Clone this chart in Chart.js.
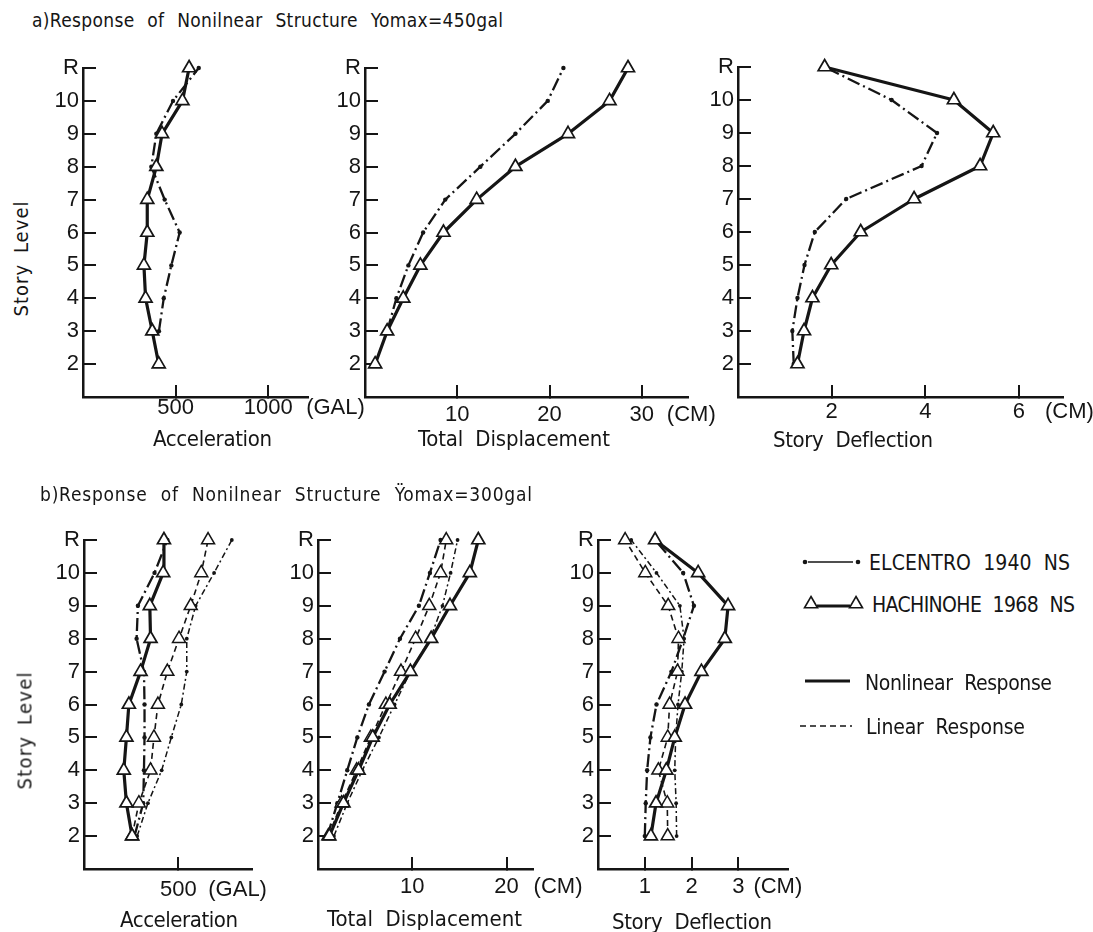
<!DOCTYPE html>
<html><head><meta charset="utf-8">
<script src="https://cdn.jsdelivr.net/npm/chart.js@4.4.1/dist/chart.umd.min.js"></script>
<style>
html,body{margin:0;padding:0;background:#fff;}
#page{position:relative;width:1093px;height:932px;overflow:hidden;background:#fff;}
#page canvas{position:absolute;}
.t{position:absolute;white-space:nowrap;color:#151515;line-height:1;}
</style></head>
<body><div id="page"></div>
<script>
// ---------------- DATA ----------------
const levels = [2, 3, 4, 5, 6, 7, 8, 9, 10, 11];            // 11 = R (roof)
const levelLabels = {11: 'R'};

// a) Response of nonlinear structure, Yomax = 450 gal
const a_acc_hachinohe_nl  = [409, 374, 338, 329, 347, 347, 396, 427, 537, 573];
const a_acc_elcentro_nl   = [null, 410, 436, 477, 522, 441, 369, 396, 486, 625];
const a_disp_hachinohe_nl = [1.1, 2.4, 4.15, 6.0, 8.5, 12.1, 16.3, 22.0, 26.5, 28.5];
const a_disp_elcentro_nl  = [null, 2.4, 3.4, 4.7, 6.3, 8.7, 12.5, 16.3, 19.8, 21.5];
const a_defl_hachinohe_nl = [1.27, 1.41, 1.59, 1.99, 2.62, 3.76, 5.17, 5.45, 4.61, 1.85];
const a_defl_elcentro_nl  = [1.19, 1.16, 1.27, 1.42, 1.64, 2.31, 3.92, 4.25, 3.28, 1.85];

// b) Response of nonlinear structure, Yomax = 300 gal
const b_acc_hachinohe_nl   = [255, 225, 211, 225, 238, 300, 353, 349, 420, 424];
const b_acc_hachinohe_lin  = [255, 291, 353, 371, 392, 442, 504, 566, 622, 658];
const b_acc_elcentro_nl    = [268, 314, 318, 321, 321, 318, 279, 286, 374, 442];
const b_acc_elcentro_lin   = [282, 339, 412, 463, 516, 545, 545, 592, 690, 784];
const b_disp_hachinohe_nl  = [1.2, 2.7, 4.3, 5.8, 7.6, 9.8, 12.0, 14.0, 16.1, 17.0];
const b_disp_hachinohe_lin = [1.1, 2.5, 4.1, 5.6, 7.2, 8.8, 10.35, 11.8, 13.0, 13.6];
const b_disp_elcentro_nl   = [0.99, 2.05, 3.1, 4.17, 5.4, 7.06, 8.69, 10.7, 11.87, 13.0];
const b_disp_elcentro_lin  = [1.69, 3.1, 4.7, 6.46, 8.12, 9.8, 11.9, 13.2, 14.06, 14.8];
const b_defl_hachinohe_nl  = [1.13, 1.24, 1.46, 1.64, 1.86, 2.21, 2.71, 2.78, 2.14, 1.22];
const b_defl_hachinohe_lin = [1.49, 1.48, 1.29, 1.49, 1.53, 1.70, 1.72, 1.50, 1.01, 0.58];
const b_defl_elcentro_nl   = [1.0, 1.02, 1.05, 1.12, 1.25, 1.57, 1.82, 2.05, 1.82, 1.22];
const b_defl_elcentro_lin  = [1.68, 1.67, 1.64, 1.66, 1.71, 1.79, 1.84, 1.75, 1.25, 0.71];

// tick values
const a_acc_ticks  = [500, 1000];
const a_disp_ticks = [10, 20, 30];
const a_defl_ticks = [2, 4, 6];
const b_acc_ticks  = [500];
const b_disp_ticks = [10, 20];
const b_defl_ticks = [1, 2, 3];

// ---------------- FONTS ----------------
const page = document.getElementById('page');
const mctx = document.createElement('canvas').getContext('2d');
function hasFont(name) {
  const s = 'abcdefghijklmnopqrstuvwxyzWM0123';
  mctx.font = '40px monospace'; const a = mctx.measureText(s).width;
  mctx.font = `40px "${name}", monospace`; const b = mctx.measureText(s).width;
  return Math.abs(a - b) > 0.5;
}
const REG = '"Liberation Sans", Arial, sans-serif';
let NF;
if (hasFont('Liberation Sans Narrow')) NF = {fam: '"Liberation Sans Narrow", ' + REG, k: 1};
else if (hasFont('DejaVu Sans Condensed')) NF = {fam: '"DejaVu Sans Condensed", ' + REG, k: 0.85};
else NF = {fam: REG, k: 0.8};
const TICK_FONT = {family: '"Liberation Sans", Arial, sans-serif', size: 22};
const INK = '#151515';

function addText(txt, o) {
  const size = Math.round(o.size * NF.k);
  const font = `${size}px ${NF.fam}`;
  mctx.font = font;
  const nat = mctx.measureText(txt).width;
  const n = [...txt].length;
  const spaces = (txt.match(/ /g) || []).length;
  const ws = o.ws || 0;
  const w = o.right - o.left;
  const ls = (w - nat - ws * spaces) / (n - 1);
  const d = document.createElement('div');
  d.className = 't';
  d.textContent = txt;
  d.style.font = font;
  d.style.letterSpacing = ls + 'px';
  d.style.wordSpacing = ws + 'px';
  const vis = w;
  d.style.width = (vis + ls + 2) + 'px';
  d.style.height = size + 'px';
  const cx = (o.left + o.right) / 2;
  d.style.left = (cx - vis / 2) + 'px';
  d.style.top = (o.cy - size / 2) + 'px';
  if (o.rot) {
    d.style.transformOrigin = `${vis / 2}px ${size / 2}px`;
    d.style.transform = `rotate(${o.rot}deg)`;
  }
  page.appendChild(d);
}

// ---------------- STYLES ----------------
const STYLES = {
  hn: {borderWidth: 3.2, borderDash: [], pointStyle: 'triangle', pointRadius: 7.5, pointBorderWidth: 1.7, pointBackgroundColor: '#fff'},
  hl: {borderWidth: 1.6, borderDash: [6, 4], pointStyle: 'triangle', pointRadius: 7.5, pointBorderWidth: 1.5, pointBackgroundColor: '#fff'},
  en: {borderWidth: 2.3, borderDash: [13, 4, 2, 4], pointStyle: 'circle', pointRadius: 2.2, pointBorderWidth: 0, pointBackgroundColor: INK},
  el: {borderWidth: 1.5, borderDash: [6, 3, 2, 3], pointStyle: 'circle', pointRadius: 1.9, pointBorderWidth: 0, pointBackgroundColor: INK}
};

// ---------------- PANELS (layout) ----------------
const PANELS = [
  {x0: 83, x1: 308, yTop: 68, yBot: 397, xMax: 1215, ticks: a_acc_ticks, unit: '(GAL)', unitDx: 38, lblOff: 11,
   series: [['HACHINOHE 1968 NS nonlinear', 'hn', a_acc_hachinohe_nl], ['ELCENTRO 1940 NS nonlinear', 'en', a_acc_elcentro_nl]]},
  {x0: 365, x1: 688, yTop: 68, yBot: 397, xMax: 35, ticks: a_disp_ticks, unit: '(CM)', unitDx: 25, lblOff: 18,
   series: [['HACHINOHE 1968 NS nonlinear', 'hn', a_disp_hachinohe_nl], ['ELCENTRO 1940 NS nonlinear', 'en', a_disp_elcentro_nl]]},
  {x0: 738, x1: 1063, yTop: 67, yBot: 397, xMax: 6.94, ticks: a_defl_ticks, unit: '(CM)', unitDx: 26, lblOff: 15,
   series: [['HACHINOHE 1968 NS nonlinear', 'hn', a_defl_hachinohe_nl], ['ELCENTRO 1940 NS nonlinear', 'en', a_defl_elcentro_nl]]},
  {x0: 84, x1: 252, yTop: 540, yBot: 869, xMax: 891, ticks: b_acc_ticks, unit: '(GAL)', unitDx: 30, lblOff: 21,
   series: [['HACHINOHE 1968 NS nonlinear', 'hn', b_acc_hachinohe_nl], ['HACHINOHE 1968 NS linear', 'hl', b_acc_hachinohe_lin],
            ['ELCENTRO 1940 NS nonlinear', 'en', b_acc_elcentro_nl], ['ELCENTRO 1940 NS linear', 'el', b_acc_elcentro_lin]]},
  {x0: 318, x1: 533, yTop: 540, yBot: 869, xMax: 22.8, ticks: b_disp_ticks, unit: '(CM)', unitDx: 27, lblOff: 18,
   series: [['HACHINOHE 1968 NS nonlinear', 'hn', b_disp_hachinohe_nl], ['HACHINOHE 1968 NS linear', 'hl', b_disp_hachinohe_lin],
            ['ELCENTRO 1940 NS nonlinear', 'en', b_disp_elcentro_nl], ['ELCENTRO 1940 NS linear', 'el', b_disp_elcentro_lin]]},
  {x0: 598, x1: 788, yTop: 540, yBot: 869, xMax: 4.06, ticks: b_defl_ticks, unit: '(CM)', unitDx: 15, lblOff: 18,
   series: [['HACHINOHE 1968 NS nonlinear', 'hn', b_defl_hachinohe_nl], ['HACHINOHE 1968 NS linear', 'hl', b_defl_hachinohe_lin],
            ['ELCENTRO 1940 NS nonlinear', 'en', b_defl_elcentro_nl], ['ELCENTRO 1940 NS linear', 'el', b_defl_elcentro_lin]]}
];

const unitPlugin = {
  id: 'unitLabel',
  afterDraw(chart, args, opts) {
    const s = chart.scales.x;
    const items = s.getLabelItems();
    const last = s.ticks[s.ticks.length - 1];
    const it = items[items.length - 1];
    const px = s.getPixelForValue(last.value);
    const y = it.options.translation[1] + it.textOffset;
    const ctx = chart.ctx;
    ctx.save();
    ctx.font = `${TICK_FONT.size}px ${TICK_FONT.family}`;
    ctx.fillStyle = INK;
    ctx.textAlign = 'left';
    ctx.textBaseline = it.options.textBaseline || 'middle';
    ctx.fillText(opts.text, px + opts.dx, y);
    ctx.restore();
  }
};

function makePanel(p) {
  const Wy = 48, padTop = 36, Hx = 44, padRight = 80;
  const w = Wy + (p.x1 - p.x0) + padRight;
  const h = padTop + (p.yBot - p.yTop) + Hx;
  const c = document.createElement('canvas');
  c.width = w; c.height = h;
  c.style.width = w + 'px'; c.style.height = h + 'px';
  c.style.left = (p.x0 - Wy) + 'px'; c.style.top = (p.yTop - padTop) + 'px';
  page.appendChild(c);
  const datasets = p.series.map(([label, st, vals]) => {
    const S = STYLES[st];
    return Object.assign({
      label,
      data: levels.map((lv, i) => ({x: vals[i], y: lv})).filter(d => d.x !== null),
      showLine: true, tension: 0, clip: false,
      borderColor: INK, pointBorderColor: INK,
      borderJoinStyle: 'round', borderCapStyle: 'butt'
    }, S);
  });
  const gridOpt = {display: true, drawOnChartArea: false, drawTicks: true, tickLength: -12, color: INK, lineWidth: 2};
  new Chart(c, {
    type: 'scatter',
    data: {datasets},
    options: {
      responsive: false, animation: false, devicePixelRatio: 1, events: [],
      layout: {padding: {top: padTop, right: padRight, left: 0, bottom: 0}},
      plugins: {legend: {display: false}, tooltip: {enabled: false}, unitLabel: {text: p.unit, dx: p.unitDx}},
      scales: {
        x: {
          type: 'linear', position: 'bottom', min: 0, max: p.xMax,
          afterBuildTicks: s => { s.ticks = p.ticks.map(v => ({value: v})); },
          afterFit: s => { s.height = Hx; },
          ticks: {font: TICK_FONT, color: INK, padding: p.lblOff - 1, maxRotation: 0, autoSkip: false, callback: v => String(v)},
          grid: gridOpt,
          border: {display: true, color: INK, width: 2.5}
        },
        y: {
          type: 'linear', position: 'left', min: 1, max: 11,
          afterBuildTicks: s => { s.ticks = levels.map(v => ({value: v})); },
          afterFit: s => { s.width = Wy; },
          ticks: {font: TICK_FONT, color: INK, padding: 17, autoSkip: false, callback: v => levelLabels[v] || String(v)},
          grid: Object.assign({}, gridOpt, {tickLength: -13}),
          border: {display: true, color: INK, width: 2.5}
        }
      }
    },
    plugins: [unitPlugin]
  });
}
PANELS.forEach(makePanel);

// ---------------- TEXT ----------------
addText('a)Response of Nonilnear Structure Yomax=450gal', {left: 32, right: 503, cy: 18, size: 22, ws: 7});
addText('b)Response of Nonilnear Structure \u0178omax=300gal', {left: 40, right: 532, cy: 492, size: 22, ws: 7});

addText('Acceleration', {left: 153, right: 272, cy: 437, size: 26});
addText('Total Displacement', {left: 418, right: 610, cy: 437, size: 26, ws: 6});
addText('Story Deflection', {left: 773, right: 933, cy: 438, size: 26, ws: 6});
addText('Acceleration', {left: 120, right: 238, cy: 918, size: 26});
addText('Total Displacement', {left: 327, right: 522, cy: 917, size: 26, ws: 6});
addText('Story Deflection', {left: 612, right: 772, cy: 920, size: 26, ws: 6});

addText('Story Level', {left: 18 - 57, right: 18 + 58, cy: 259, size: 24, rot: -90, ws: 4});
addText('Story Level', {left: 22 - 58, right: 22 + 59, cy: 731, size: 24, rot: -90, ws: 4});

// legend
addText('ELCENTRO 1940 NS', {left: 869, right: 1070, cy: 561, size: 25, ws: 6});
addText('HACHINOHE 1968 NS', {left: 872, right: 1075, cy: 603, size: 25, ws: 6});
addText('Nonlinear Response', {left: 865, right: 1052, cy: 681, size: 25, ws: 6});
addText('Linear Response', {left: 866, right: 1025, cy: 725, size: 25, ws: 6});

const svgNS = 'http://www.w3.org/2000/svg';
const svg = document.createElementNS(svgNS, 'svg');
svg.setAttribute('width', 80); svg.setAttribute('height', 200);
svg.style.position = 'absolute'; svg.style.left = '790px'; svg.style.top = '540px';
function el(tag, attrs) { const e = document.createElementNS(svgNS, tag); for (const k in attrs) e.setAttribute(k, attrs[k]); svg.appendChild(e); return e; }
function tri(cx, cy, r) {
  const pts = [[cx, cy - r], [cx + r * 0.866, cy + r * 0.5], [cx - r * 0.866, cy + r * 0.5]].map(p => p.join(',')).join(' ');
  el('polygon', {points: pts, fill: '#fff', stroke: INK, 'stroke-width': 1.6});
}
// ELCENTRO
el('line', {x1: 18, y1: 22, x2: 63, y2: 22, stroke: INK, 'stroke-width': 1.6});
el('circle', {cx: 15, cy: 22, r: 2.3, fill: INK});
el('circle', {cx: 68, cy: 22, r: 2.3, fill: INK});
// HACHINOHE
el('line', {x1: 27, y1: 66, x2: 60, y2: 66, stroke: INK, 'stroke-width': 3});
tri(21, 64, 7.5); tri(66, 64, 7.5);
// Nonlinear / Linear
el('line', {x1: 15, y1: 141, x2: 60, y2: 141, stroke: INK, 'stroke-width': 3});
el('line', {x1: 10, y1: 186, x2: 62, y2: 186, stroke: INK, 'stroke-width': 1.5, 'stroke-dasharray': '6,4'});
page.appendChild(svg);
</script>
</body></html>
